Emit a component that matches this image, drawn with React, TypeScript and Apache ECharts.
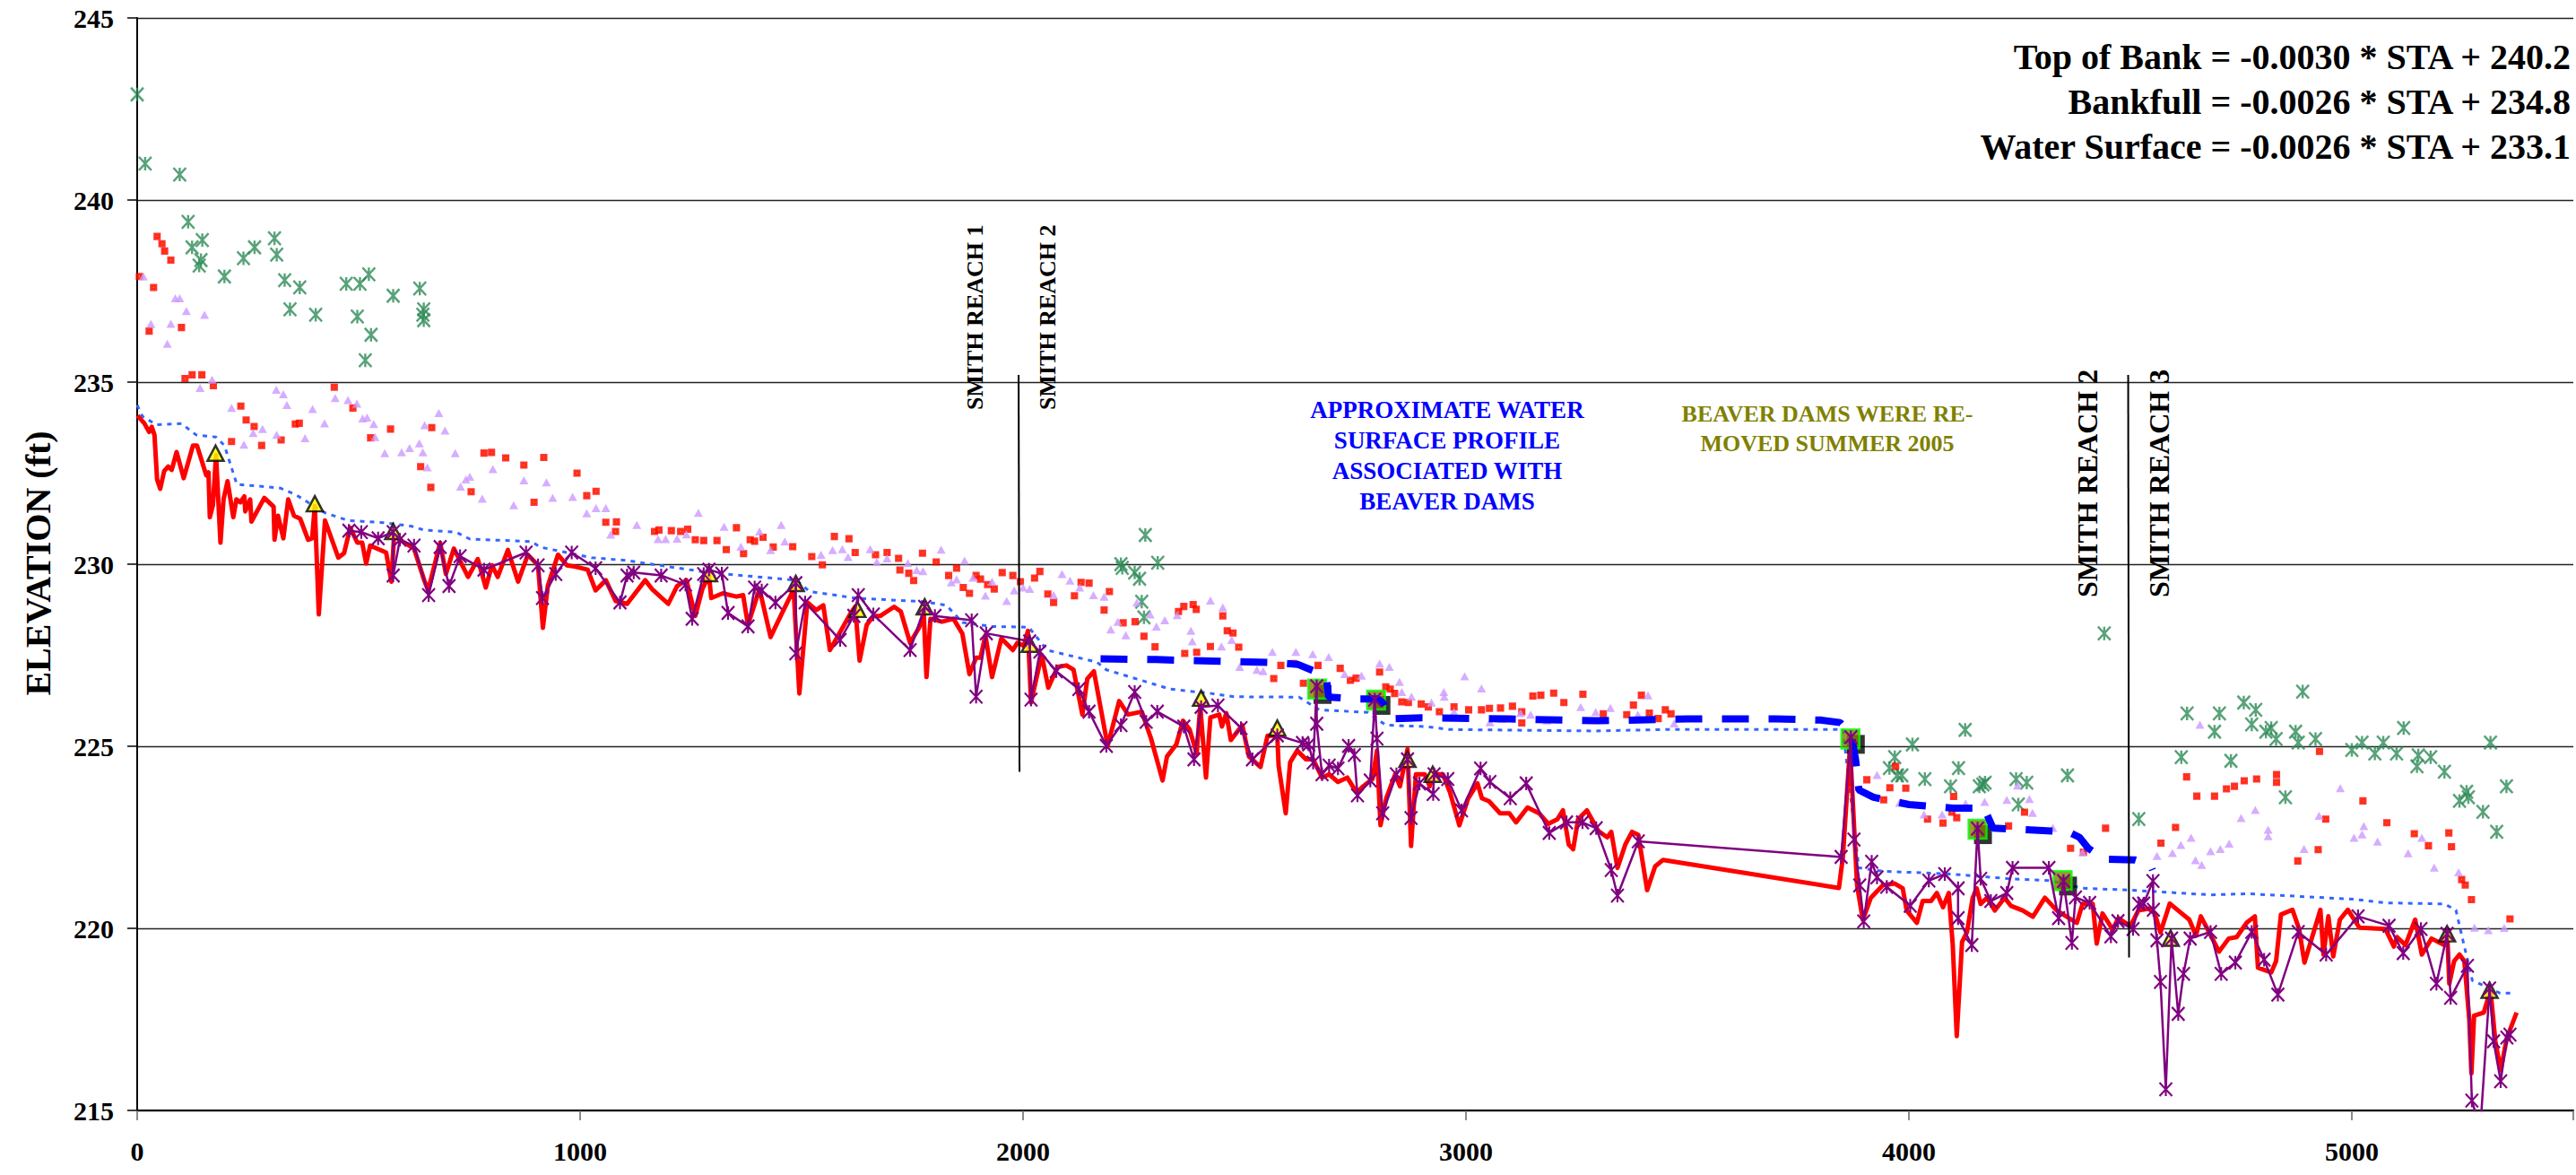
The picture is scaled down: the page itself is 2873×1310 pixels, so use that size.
import React, { useEffect, useRef } from 'react';
import * as echarts from 'echarts';

const W = 2873;
const H = 1310;
const FONT = '"Liberation Serif", "Times New Roman", serif';

// ---- axis ticks ----
const xTicks = [0, 1000, 2000, 3000, 4000, 5000];
const yTicks = [215, 220, 225, 230, 235, 240, 245];

// ---- equations ----
const equations = [
  'Top of Bank = -0.0030 * STA + 240.2',
  'Bankfull = -0.0026 * STA + 234.8',
  'Water Surface = -0.0026 * STA + 233.1',
];

// ---- green asterisks (top of bank) ----
const topOfBank: number[][] = [
  [0, 242.9], [18, 241.0], [96, 240.7], [115, 239.4], [124, 238.7], [140, 238.2], [144, 238.35], [147, 238.9], [197, 237.9], [240, 238.4], [265, 238.7], [310, 238.95], [315, 238.5], [333, 237.8], [345, 237.0], [367, 237.6], [403, 236.85], [472, 237.7], [497, 236.8], [503, 237.7], [515, 235.6], [523, 237.96], [528, 236.3], [578, 237.37], [638, 237.57], [645, 236.85], [647, 237.0], [647, 236.7],
  [2221, 230.0], [2224, 229.9], [2252, 229.77], [2263, 229.6], [2268, 228.97], [2273, 228.54], [2276, 230.8], [2304, 230.04],
  [3956, 224.4], [3968, 224.7], [3974, 224.2], [3984, 224.2], [4008, 225.05], [4036, 224.1], [4094, 223.9], [4112, 224.4], [4127, 225.45], [4159, 223.9], [4167, 223.95], [4172, 224.0], [4242, 224.1], [4247, 223.4], [4266, 224.0], [4358, 224.2], [4441, 228.1], [4519, 223.0], [4615, 224.7], [4628, 225.9], [4690, 225.4], [4701, 225.9], [4727, 224.6], [4756, 226.2], [4774, 225.6], [4783, 226.0], [4806, 225.4], [4818, 225.5], [4829, 225.2], [4850, 223.6], [4873, 225.4], [4879, 225.1], [4889, 226.5], [4918, 225.2], [5000, 224.9], [5023, 225.1], [5052, 224.8], [5071, 225.1], [5101, 224.8], [5117, 225.5], [5147, 224.45], [5150, 224.75], [5178, 224.7], [5209, 224.3], [5243, 223.5], [5259, 223.75], [5263, 223.6], [5296, 223.2], [5313, 225.1], [5327, 222.65], [5349, 223.9],
];

// ---- red squares (bankfull) ----
const bankfullSq: number[][] = [
  [5, 237.9], [27, 236.4], [37, 237.6], [45, 239.0], [56, 238.8], [62, 238.6], [76, 238.35], [100, 236.5], [108, 235.1], [124, 235.2], [146, 235.2], [172, 234.9], [213, 233.37], [234, 234.34], [246, 233.96], [264, 233.78], [281, 233.26], [325, 233.41], [357, 233.85], [366, 233.87], [445, 234.86], [487, 234.29], [527, 233.47], [572, 233.71], [640, 232.68], [663, 232.11], [665, 233.75], [754, 231.99], [783, 233.05], [800, 233.07], [832, 232.92], [873, 232.72], [896, 231.7], [918, 232.93], [993, 232.5], [1015, 231.88], [1036, 232.0], [1058, 231.15], [1080, 230.9], [1082, 231.16],
  [1168, 230.9], [1178, 230.94], [1206, 230.92], [1227, 230.9], [1243, 230.96], [1260, 230.67], [1279, 230.65], [1309, 230.65], [1330, 230.4], [1353, 231.0], [1369, 230.29], [1384, 230.67], [1394, 230.63], [1413, 230.74], [1436, 230.47], [1480, 230.48], [1523, 230.21], [1547, 229.98], [1574, 230.76], [1607, 230.7], [1621, 230.32], [1667, 230.26], [1693, 230.32], [1719, 230.16], [1722, 229.84], [1742, 229.75], [1753, 229.55], [1773, 230.3], [1804, 230.06], [1832, 229.69], [1850, 229.89], [1865, 229.36], [1879, 229.2], [1894, 229.69], [1904, 229.59], [1920, 229.44], [1935, 229.32], [1953, 229.77], [1977, 229.69], [1994, 229.52], [2026, 229.62], [2038, 229.8], [2056, 229.18], [2069, 228.95], [2116, 229.13], [2131, 229.5], [2149, 229.48], [2183, 228.74], [2195, 229.25], [2226, 228.39], [2253, 228.42], [2273, 228.02], [2298, 227.73], [2351, 228.7], [2363, 228.84], [2365, 227.55], [2384, 228.89], [2391, 228.76], [2392, 227.58], [2423, 227.74], [2451, 228.58], [2461, 228.17], [2474, 228.11], [2487, 227.72], [2566, 226.86], [2582, 227.22], [2611, 227.27], [2633, 226.73], [2666, 227.22], [2716, 227.14], [2739, 226.81], [2752, 226.87], [2805, 227.04], [2819, 226.63], [2829, 226.57], [2839, 226.45], [2855, 226.22], [2870, 226.2], [2899, 226.16], [2915, 226.08], [2940, 225.95], [2973, 226.08], [3006, 226.0], [3035, 226.0], [3053, 226.04], [3078, 226.05], [3105, 226.1], [3126, 225.95], [3126, 225.64], [3151, 226.38], [3169, 226.4], [3198, 226.46], [3221, 226.2], [3264, 226.43], [3310, 225.89], [3363, 225.87], [3378, 226.13], [3396, 226.4], [3414, 225.91], [3434, 225.76], [3450, 226.0], [3463, 225.89],
  [3905, 224.08], [3943, 223.53], [3957, 223.86], [3970, 224.45], [3993, 223.85], [4042, 223.0], [4077, 222.89], [4097, 223.19], [4101, 223.62], [4108, 223.04], [4225, 222.81], [4261, 223.19], [4365, 222.2], [4394, 222.09], [4444, 222.75], [4569, 222.34], [4602, 222.77], [4627, 224.16], [4650, 223.63], [4690, 223.63], [4717, 223.83], [4735, 223.9], [4757, 224.05], [4785, 224.1], [4830, 224.22], [4830, 224.01], [4878, 221.85], [4924, 222.16], [4927, 224.86], [4941, 223.0], [5025, 223.5], [5079, 222.9], [5141, 222.6], [5173, 222.27], [5219, 222.62], [5225, 222.24], [5248, 221.34], [5256, 221.19], [5270, 220.79], [5357, 220.26],
];

// ---- lavender triangles ----
const bankfullTri: number[][] = [
  [14, 237.9], [31, 236.6], [68, 236.05], [76, 236.6], [86, 237.3], [96, 237.3], [111, 236.95], [142, 234.84], [152, 236.85], [169, 235.07], [213, 234.29], [241, 233.28], [262, 233.6], [283, 233.71], [314, 234.79], [315, 233.55], [330, 234.67], [338, 234.37], [379, 233.46], [396, 234.26], [423, 233.87], [447, 234.56], [476, 234.51], [496, 234.41], [509, 234.0], [519, 234.03], [534, 233.85], [537, 233.49], [559, 233.05], [597, 233.07], [615, 233.19], [637, 233.32], [645, 233.07], [649, 233.82], [655, 232.66], [681, 234.15], [695, 233.67], [718, 233.05], [730, 232.13], [742, 232.33], [751, 232.4], [779, 231.8], [803, 232.61], [850, 231.62], [873, 232.3], [924, 232.25], [938, 231.82], [983, 231.85], [1015, 231.4], [1036, 231.54], [1058, 231.54], [1069, 230.81],
  [1128, 231.08], [1176, 230.69], [1193, 230.69], [1219, 230.7], [1240, 230.82], [1267, 231.41], [1325, 231.03], [1363, 230.48], [1405, 230.9], [1430, 230.39], [1454, 231.08], [1462, 230.62], [1544, 230.26], [1570, 230.39], [1592, 230.41], [1605, 230.2], [1655, 230.41], [1670, 230.06], [1693, 230.16], [1740, 230.03], [1760, 229.84], [1774, 229.81], [1815, 230.4], [1838, 229.5], [1850, 229.58], [1868, 230.1], [1887, 229.63], [1915, 229.14], [1930, 229.52], [1963, 228.99], [1980, 229.28], [2000, 229.36], [2015, 229.32], [2069, 229.15], [2088, 229.73], [2106, 229.55], [2128, 229.36], [2159, 229.15], [2183, 229.11], [2198, 228.21], [2214, 228.42], [2232, 228.05], [2257, 228.95], [2287, 228.62], [2301, 228.29], [2320, 228.46], [2348, 228.6], [2379, 228.17], [2382, 227.88], [2423, 229.0], [2448, 227.74], [2451, 228.81], [2471, 227.92], [2489, 227.18], [2528, 227.1], [2542, 227.06], [2563, 227.59], [2616, 227.59], [2654, 227.53], [2690, 227.45], [2726, 226.98], [2764, 226.94], [2805, 227.27], [2827, 227.18], [2850, 226.77], [2855, 226.49], [2877, 226.36], [2922, 226.2], [2950, 226.49], [2951, 226.36], [2973, 225.95], [2997, 226.92], [3035, 226.59], [3054, 225.66], [3081, 225.75], [3123, 225.91], [3146, 225.87], [3183, 225.71], [3259, 226.08], [3293, 225.94], [3326, 226.05], [3388, 225.87], [3411, 226.4], [3470, 225.63],
  [3928, 224.21], [3979, 223.45], [4034, 223.13], [4075, 223.13], [4128, 223.43], [4171, 223.47], [4221, 223.53], [4245, 223.92], [4272, 223.55], [4279, 223.17], [4325, 222.76], [4392, 222.09], [4560, 221.99], [4595, 222.07], [4614, 222.29], [4637, 222.49], [4647, 221.87], [4657, 225.59], [4661, 221.74], [4681, 222.12], [4703, 222.18], [4723, 222.33], [4750, 223.03], [4782, 223.25], [4811, 222.71], [4811, 222.53], [4892, 222.18], [4926, 223.09], [4974, 223.85], [5005, 222.49], [5023, 222.58], [5027, 222.81], [5058, 222.38], [5127, 222.06], [5158, 222.49], [5186, 221.67], [5241, 221.54], [5277, 220.02], [5308, 219.95], [5344, 220.01],
];

// ---- blue dotted water surface ----
const waterSurface: number[][] = [
  [0, 234.37], [12, 234.06], [43, 233.83], [100, 233.86], [133, 233.55], [178, 233.49], [197, 233.26], [225, 232.19], [269, 232.15], [323, 232.09], [359, 231.9], [424, 231.41], [476, 231.2], [557, 231.14], [620, 231.04], [647, 230.94], [720, 230.88], [751, 230.69], [891, 230.62], [909, 230.47], [1026, 230.18], [1106, 230.1], [1178, 229.97], [1291, 229.77], [1487, 229.56], [1518, 229.25], [1621, 229.07], [1776, 228.97], [1827, 228.87], [1863, 228.4], [1930, 228.29], [2013, 228.27], [2054, 227.64], [2167, 227.31], [2188, 227.1], [2270, 226.8], [2332, 226.57], [2425, 226.45], [2476, 226.36], [2623, 226.35], [2669, 226.0], [2778, 225.93], [2819, 225.58], [2911, 225.54], [2963, 225.46], [3293, 225.42], [3447, 225.46], [3851, 225.46], [3887, 221.66], [3941, 221.57], [4095, 221.49], [4230, 221.36], [4320, 221.31], [4392, 221.1], [4500, 221.05], [4681, 220.92], [4766, 220.95], [5003, 220.8], [5076, 220.7], [5209, 220.67], [5235, 220.5], [5254, 219.5], [5272, 218.57], [5335, 218.22], [5366, 218.22],
];

// ---- red thalweg ----
const thalweg: number[][] = [
  [1, 234.08], [16, 233.87], [27, 233.63], [33, 233.77], [39, 233.55], [45, 232.32], [52, 232.07], [61, 232.56], [70, 232.68], [78, 232.59], [89, 233.08], [105, 232.36], [126, 233.26], [135, 233.26], [156, 232.44], [161, 232.52], [164, 231.29], [171, 231.62], [178, 233.0], [188, 230.59], [195, 231.78], [204, 232.28], [217, 231.29], [224, 231.78], [233, 231.7], [242, 231.86], [244, 231.45], [255, 231.78], [258, 231.17], [287, 231.82], [308, 231.58], [310, 230.67], [318, 231.33], [330, 230.71], [341, 231.78], [354, 231.33], [368, 231.25], [386, 230.67], [395, 230.71], [401, 231.6], [410, 228.62], [424, 231.2], [454, 230.18], [467, 230.3], [481, 231.0], [497, 230.59], [508, 230.59], [517, 230.02], [526, 230.51], [562, 230.32], [574, 229.52], [580, 230.8], [593, 230.67], [625, 230.43], [648, 229.56], [657, 229.28], [684, 230.59], [697, 229.73], [715, 230.43], [747, 229.65], [769, 230.14], [787, 229.36], [801, 229.97], [814, 229.65], [837, 230.39], [860, 229.52], [882, 230.26], [905, 229.97], [916, 228.25], [927, 229.4], [950, 230.26], [970, 229.97], [990, 229.93], [1017, 229.85], [1035, 229.28], [1058, 229.56], [1080, 228.99], [1106, 228.91], [1147, 229.56], [1162, 229.32], [1199, 228.91], [1219, 229.4], [1240, 229.56], [1260, 228.58], [1276, 229.32], [1291, 229.69], [1296, 229.07], [1322, 229.2], [1353, 229.11], [1368, 229.15], [1379, 228.33], [1405, 229.32], [1430, 228.0], [1456, 228.66], [1482, 229.3], [1495, 226.45], [1513, 228.95], [1533, 228.74], [1549, 228.87], [1564, 227.64], [1585, 228.09], [1611, 228.66], [1621, 228.83], [1631, 227.35], [1647, 228.33], [1662, 228.58], [1678, 228.58], [1693, 228.7], [1709, 228.83], [1724, 228.7], [1745, 227.84], [1765, 228.25], [1776, 228.6], [1782, 226.9], [1791, 228.5], [1817, 228.42], [1843, 228.5], [1863, 228.09], [1879, 226.98], [1894, 227.43], [1904, 227.43], [1915, 228.05], [1930, 226.9], [1951, 227.96], [1977, 227.64], [1987, 227.84], [2002, 227.76], [2011, 228.17], [2018, 226.2], [2042, 227.51], [2057, 226.61], [2078, 227.18], [2098, 227.22], [2114, 227.1], [2134, 225.87], [2145, 226.85], [2160, 227.06], [2191, 225.01], [2217, 226.24], [2237, 225.87], [2268, 225.95], [2289, 225.21], [2315, 224.06], [2325, 224.72], [2346, 225.05], [2361, 225.7], [2376, 225.46], [2392, 224.8], [2400, 226.11], [2413, 224.14], [2423, 225.79], [2443, 225.87], [2449, 225.54], [2459, 225.91], [2469, 225.17], [2495, 225.58], [2510, 224.72], [2536, 224.43], [2552, 225.29], [2574, 225.29], [2577, 224.47], [2593, 223.16], [2603, 224.56], [2619, 224.88], [2639, 224.64], [2655, 224.64], [2665, 224.39], [2675, 224.14], [2691, 224.23], [2711, 224.02], [2732, 224.14], [2753, 223.73], [2768, 223.9], [2789, 224.1], [2799, 224.88], [2807, 222.83], [2820, 223.57], [2840, 224.23], [2851, 223.9], [2868, 224.92], [2876, 222.26], [2887, 224.23], [2907, 224.23], [2918, 223.9], [2928, 224.23], [2948, 224.23], [2964, 223.73], [2985, 222.83], [3005, 223.57], [3026, 223.98], [3036, 223.57], [3052, 223.49], [3077, 223.16], [3098, 223.16], [3113, 222.91], [3139, 223.32], [3165, 223.16], [3186, 222.87], [3206, 222.99], [3219, 223.24], [3232, 222.3], [3242, 222.17], [3253, 222.99], [3273, 223.24], [3299, 222.67], [3319, 222.5], [3328, 222.65], [3342, 221.66], [3360, 222.31], [3375, 222.65], [3389, 222.57], [3409, 221.05], [3427, 221.7], [3445, 221.88], [3842, 221.11], [3851, 221.96], [3867, 224.99], [3883, 221.18], [3896, 220.23], [3914, 220.84], [3941, 221.18], [3968, 221.23], [3986, 221.1], [3995, 220.49], [4018, 220.15], [4031, 220.75], [4050, 220.75], [4063, 220.97], [4077, 220.58], [4090, 220.97], [4099, 219.54], [4108, 217.04], [4120, 219.63], [4131, 219.89], [4144, 220.84], [4153, 221.1], [4162, 220.67], [4176, 220.84], [4194, 220.49], [4216, 220.84], [4230, 220.62], [4257, 220.49], [4280, 220.32], [4307, 220.84], [4334, 220.49], [4356, 220.32], [4379, 220.15], [4392, 220.67], [4415, 220.67], [4424, 219.58], [4437, 220.41], [4460, 219.97], [4473, 220.28], [4500, 220.06], [4518, 220.49], [4541, 220.54], [4555, 220.41], [4568, 219.89], [4589, 220.68], [4619, 220.38], [4633, 220.24], [4648, 219.8], [4659, 220.33], [4678, 219.89], [4700, 219.36], [4722, 219.72], [4740, 219.76], [4763, 220.16], [4781, 220.33], [4788, 218.92], [4818, 218.79], [4829, 219.1], [4840, 220.38], [4866, 220.51], [4881, 219.98], [4893, 219.06], [4929, 220.51], [4936, 219.28], [4947, 220.33], [4958, 219.23], [4973, 220.24], [4991, 220.51], [5017, 220.02], [5076, 219.98], [5095, 219.5], [5102, 219.76], [5121, 219.54], [5143, 220.24], [5158, 219.28], [5180, 219.72], [5209, 219.54], [5215, 219.98], [5220, 218.48], [5231, 219.1], [5243, 219.28], [5254, 219.1], [5265, 217.52], [5270, 216.02], [5276, 217.6], [5298, 217.69], [5313, 218.31], [5324, 216.9], [5336, 216.1], [5350, 216.99], [5372, 217.69],
];

// ---- purple thalweg survey ----
const thalweg2: number[][] = [
  [478, 230.92], [506, 230.88], [544, 230.71], [578, 230.88], [578, 229.69], [593, 230.67], [625, 230.51], [658, 229.15], [684, 230.47], [704, 229.4], [729, 230.22], [783, 229.85], [878, 230.32], [905, 229.97], [915, 229.07], [945, 229.73], [981, 230.32], [1035, 229.89], [1090, 228.95], [1106, 229.69], [1121, 229.77], [1183, 229.69], [1238, 229.44], [1253, 228.5], [1279, 229.73], [1291, 229.85], [1320, 229.74], [1334, 228.66], [1379, 228.29], [1394, 229.36], [1410, 229.28], [1441, 228.95], [1487, 229.48], [1487, 227.55], [1508, 228.95], [1587, 227.92], [1618, 228.58], [1628, 229.15], [1662, 228.62], [1745, 227.64], [1778, 228.83], [1801, 228.58], [1884, 228.46], [1894, 226.36], [1917, 228.1], [2015, 227.88], [2018, 226.28], [2038, 227.6], [2075, 227.06], [2126, 226.57], [2149, 225.95], [2188, 225.01], [2221, 225.58], [2252, 226.49], [2278, 225.67], [2303, 225.95], [2363, 225.54], [2386, 224.64], [2402, 226.08], [2440, 226.12], [2492, 225.5], [2518, 224.64], [2574, 225.3], [2631, 225.09], [2645, 225.05], [2655, 224.55], [2663, 226.65], [2663, 225.62], [2675, 224.23], [2691, 224.47], [2711, 224.39], [2735, 225.01], [2748, 224.76], [2755, 223.65], [2784, 224.06], [2794, 226.28], [2799, 225.21], [2812, 223.16], [2843, 224.23], [2868, 224.64], [2876, 223.03], [2895, 223.98], [2926, 223.69], [2928, 224.23], [2959, 224.1], [2990, 223.24], [3033, 224.39], [3054, 224.02], [3100, 223.57], [3136, 223.98], [3188, 222.62], [3227, 222.91], [3263, 222.91], [3294, 222.75], [3328, 221.6], [3342, 220.9], [3389, 222.39], [3847, 221.96], [3869, 225.25], [3876, 222.44], [3889, 221.18], [3898, 220.19], [3916, 221.83], [3928, 221.4], [3950, 221.14], [4003, 220.62], [4045, 221.31], [4081, 221.49], [4111, 221.1], [4111, 220.28], [4142, 219.54], [4155, 222.74], [4162, 221.36], [4185, 220.75], [4221, 220.97], [4234, 221.66], [4316, 221.66], [4338, 220.28], [4349, 221.3], [4368, 219.6], [4376, 220.85], [4408, 220.7], [4456, 219.78], [4472, 220.2], [4506, 219.98], [4519, 220.67], [4530, 220.68], [4551, 221.3], [4552, 220.51], [4560, 219.67], [4568, 218.53], [4580, 215.58], [4593, 219.72], [4608, 217.65], [4620, 218.75], [4635, 219.72], [4681, 219.9], [4705, 218.75], [4737, 219.06], [4774, 219.9], [4802, 219.14], [4833, 218.18], [4879, 219.9], [4942, 219.28], [5014, 220.33], [5084, 220.07], [5116, 219.32], [5156, 219.98], [5191, 218.48], [5215, 219.85], [5223, 218.09], [5261, 218.97], [5271, 215.27], [5290, 214.5], [5311, 218.35], [5320, 216.9], [5336, 215.8], [5350, 217.0], [5357, 217.08],
];

// ---- yellow triangles ----
const riffles: number[][] = [
  [177, 233.05], [401, 231.66], [578, 230.9], [1291, 229.74], [1487, 229.47], [1626, 228.76], [1778, 228.83], [2015, 227.8], [2402, 226.32], [2574, 225.5], [2868, 224.64], [2925, 224.23], [4591, 219.73], [5215, 219.85], [5311, 218.3],
];

// ---- beaver dams ----
const dams: number[][] = [
  [2664, 226.57], [2797, 226.27], [3868, 225.2], [4155, 222.72], [4347, 221.31],
];

// ---- approximate water surface with beaver dams ----
const beaverWs: number[][] = [
  [2175, 227.4], [2300, 227.38], [2450, 227.33], [2560, 227.3], [2620, 227.25], [2660, 227.05], [2685, 226.85], [2690, 226.35], [2750, 226.3], [2800, 226.3], [2812, 226.2], [2830, 225.75], [2900, 225.78], [3100, 225.75], [3300, 225.7], [3500, 225.75], [3700, 225.75], [3800, 225.72], [3845, 225.65], [3870, 225.3], [3880, 224.6], [3887, 223.8], [3920, 223.6], [4000, 223.4], [4100, 223.3], [4170, 223.3], [4190, 222.75], [4360, 222.65], [4385, 222.5], [4405, 222.2], [4440, 221.9], [4510, 221.88], [4545, 221.75], [4550, 221.6],
];

// ---- reach boundaries ----
const reach12: number[][] = [[1990, 235.2], [1992, 224.3]];
const reach23: number[][] = [[4495, 235.2], [4497, 219.2]];

const ASTERISK = 'path://M0,-10L0,10M-10,-10L10,10M-10,10L10,-10';

export default function App() {
  const ref = useRef<HTMLDivElement>(null);
  useEffect(() => {
    if (!ref.current) return;
    const chart = echarts.init(ref.current, null, { renderer: 'svg', width: W, height: H });
    const option: any = {
      animation: false,
      backgroundColor: '#ffffff',
      grid: { left: 153, right: -2, top: 20, bottom: 72, containLabel: false },
      xAxis: {
        type: 'value',
        min: 0,
        max: 5500,
        interval: 1000,
        axisLine: { show: true, onZero: false, lineStyle: { color: '#000', width: 2 } },
        axisTick: { show: true, inside: false, length: 11, lineStyle: { color: '#666', width: 1.5 } },
        splitLine: { show: false },
        axisLabel: {
          margin: 30,
          color: '#000',
          fontSize: 30,
          fontWeight: 'bold',
          fontFamily: FONT,
          formatter: (v: number) => (xTicks.indexOf(v) >= 0 ? String(v) : ''),
        },
      },
      yAxis: {
        type: 'value',
        min: 215,
        max: 245,
        interval: 5,
        axisLine: { show: true, lineStyle: { color: '#000', width: 2 } },
        axisTick: { show: true, inside: false, length: 11, lineStyle: { color: '#000', width: 1.5 } },
        splitLine: { show: true, lineStyle: { color: '#222', width: 1.3 } },
        axisLabel: {
          margin: 26,
          color: '#000',
          fontSize: 30,
          fontWeight: 'bold',
          fontFamily: FONT,
          formatter: (v: number) => (yTicks.indexOf(v) >= 0 ? String(v) : ''),
        },
      },
      series: [
        {
          name: 'Top of Bank',
          type: 'scatter',
          data: topOfBank,
          symbol: ASTERISK,
          symbolSize: [14, 15],
          itemStyle: { color: 'transparent', borderColor: '#2E8B57', borderWidth: 2.5 },
          silent: true,
          z: 2,
        },
        {
          name: 'Bankfull',
          type: 'scatter',
          data: bankfullSq,
          symbol: 'rect',
          symbolSize: 4.5,
          itemStyle: { color: '#FFCC00', borderColor: '#FF0000', borderWidth: 3.6 },
          silent: true,
          z: 2,
        },
        {
          name: 'Bankfull (alt)',
          type: 'scatter',
          data: bankfullTri,
          symbol: 'triangle',
          symbolSize: [10, 9],
          itemStyle: { color: '#CC99FF' },
          silent: true,
          z: 2,
        },
        {
          name: 'Water Surface',
          type: 'line',
          data: waterSurface,
          showSymbol: false,
          symbol: 'none',
          lineStyle: { color: '#3366FF', width: 3, type: [5, 6] },
          silent: true,
          z: 3,
        },
        {
          name: 'Thalweg',
          type: 'line',
          data: thalweg,
          showSymbol: false,
          symbol: 'none',
          lineStyle: { color: '#FF0000', width: 5, join: 'round' },
          silent: true,
          z: 4,
        },
        {
          name: 'Riffle',
          type: 'scatter',
          data: riffles,
          symbol: 'triangle',
          symbolSize: [18, 17],
          itemStyle: { color: '#FFFF00', borderColor: '#000', borderWidth: 2.5 },
          silent: true,
          z: 5,
        },
        {
          name: 'Dam shadow',
          type: 'scatter',
          data: dams,
          symbol: 'rect',
          symbolSize: [20, 21],
          symbolOffset: [6, 6],
          itemStyle: { color: '#000' },
          silent: true,
          z: 6,
        },
        {
          name: 'Beaver Dam',
          type: 'scatter',
          data: dams,
          symbol: 'rect',
          symbolSize: [20, 21],
          itemStyle: { color: '#808000', borderColor: '#00FF00', borderWidth: 2.5 },
          silent: true,
          z: 7,
        },
        {
          name: 'Approx. Water Surface (Beaver Dams)',
          type: 'line',
          data: beaverWs,
          showSymbol: false,
          symbol: 'none',
          lineStyle: { color: '#0000FF', width: 8, type: [30, 22] },
          silent: true,
          z: 8,
        },
        {
          name: 'Thalweg Survey',
          type: 'line',
          data: thalweg2,
          symbol: ASTERISK,
          showSymbol: true,
          showAllSymbol: true,
          symbolSize: [14, 15],
          lineStyle: { color: '#800080', width: 2.5 },
          itemStyle: { color: 'transparent', borderColor: '#800080', borderWidth: 2.2 },
          silent: true,
          z: 9,
        },
        {
          name: 'Reach 1-2',
          type: 'line',
          data: reach12,
          showSymbol: false,
          symbol: 'none',
          lineStyle: { color: '#000', width: 2 },
          silent: true,
          z: 10,
        },
        {
          name: 'Reach 2-3',
          type: 'line',
          data: reach23,
          showSymbol: false,
          symbol: 'none',
          lineStyle: { color: '#000', width: 2 },
          silent: true,
          z: 10,
        },
      ],
      graphic: [
        {
          type: 'text',
          x: 42,
          y: 628,
          rotation: Math.PI / 2,
          z: 100,
          style: {
            text: 'ELEVATION (ft)',
            align: 'center',
            verticalAlign: 'middle',
            fontSize: 40,
            fontWeight: 'bold',
            fontFamily: FONT,
            fill: '#000',
          },
        },
        {
          type: 'text',
          x: 2867,
          y: 38,
          z: 100,
          style: {
            text: equations.join('\n'),
            align: 'right',
            verticalAlign: 'top',
            fontSize: 40,
            fontWeight: 'bold',
            fontFamily: FONT,
            lineHeight: 50,
            fill: '#000',
          },
        },
        {
          type: 'text',
          x: 1614,
          y: 440,
          z: 100,
          style: {
            text: 'APPROXIMATE WATER\nSURFACE PROFILE\nASSOCIATED WITH\nBEAVER DAMS',
            align: 'center',
            verticalAlign: 'top',
            fontSize: 27,
            fontWeight: 'bold',
            fontFamily: FONT,
            lineHeight: 34,
            fill: '#0000FF',
          },
        },
        {
          type: 'text',
          x: 2038,
          y: 445,
          z: 100,
          style: {
            text: 'BEAVER DAMS WERE RE-\nMOVED SUMMER 2005',
            align: 'center',
            verticalAlign: 'top',
            fontSize: 26,
            fontWeight: 'bold',
            fontFamily: FONT,
            lineHeight: 33,
            fill: '#808000',
          },
        },
        ...[
          { t: 'SMITH REACH 1', x: 1087, y: 457, s: 26 },
          { t: 'SMITH REACH 2', x: 1168, y: 457, s: 26 },
          { t: 'SMITH REACH 2', x: 2328, y: 666, s: 32 },
          { t: 'SMITH REACH 3', x: 2408, y: 666, s: 32 },
        ].map((r) => ({
          type: 'text',
          x: r.x,
          y: r.y,
          rotation: Math.PI / 2,
          z: 100,
          style: {
            text: r.t,
            align: 'left',
            verticalAlign: 'middle',
            fontSize: r.s,
            fontWeight: 'bold',
            fontFamily: FONT,
            fill: '#000',
          },
        })),
      ],
    };
    chart.setOption(option);
    return () => chart.dispose();
  }, []);
  return (
    <div
      ref={ref}
      style={{ position: 'absolute', left: 0, top: 0, width: W, height: H, background: '#fff' }}
    />
  );
}
